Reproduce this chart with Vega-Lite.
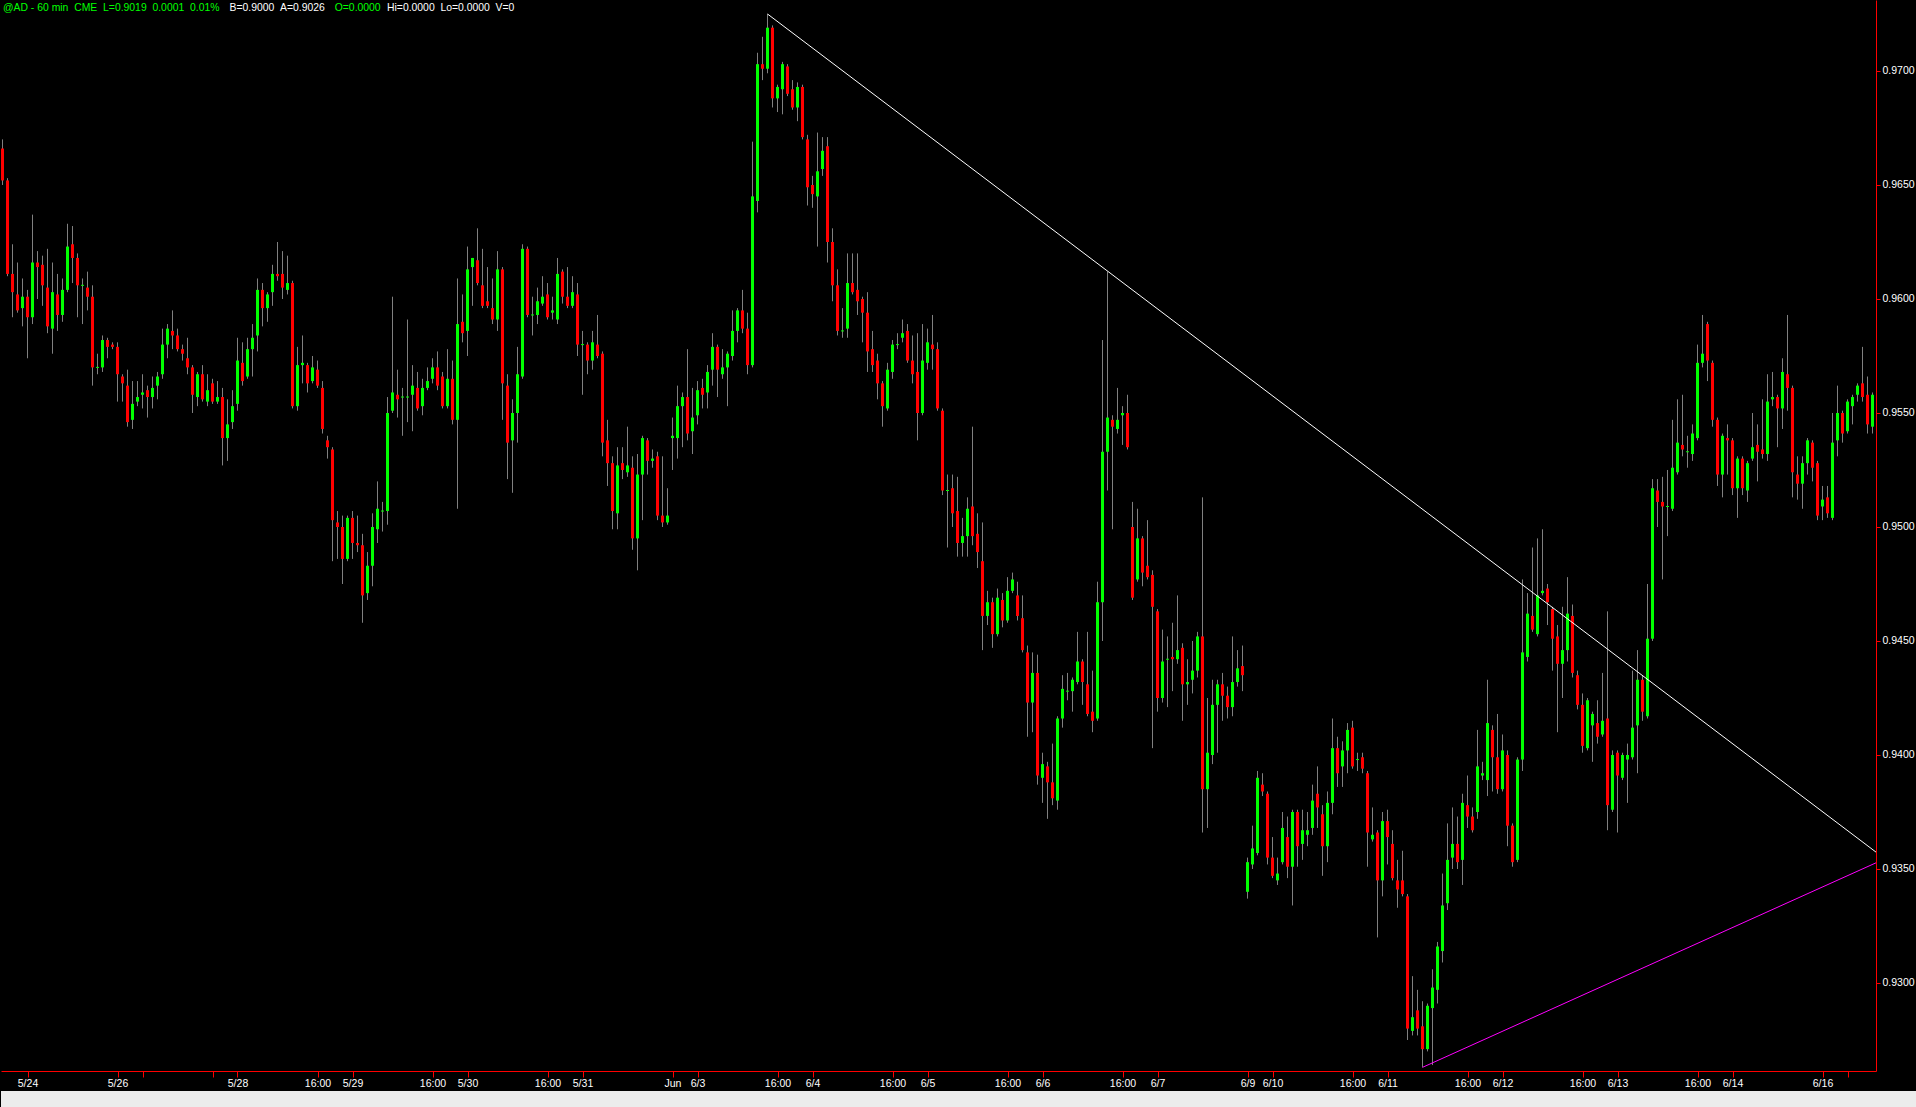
{
"$schema": "https://vega.github.io/schema/vega-lite/v6.json",
"background": "#000000",
"padding": 0,
"spacing": 2,
"config": {"view": {"stroke": null}, "axis": {"grid": false}},
"datasets": {
"bars": [
{"i":0,"o":0.9666,"h":0.9670,"l":0.9650,"c":0.9652},
{"i":1,"o":0.9652,"h":0.9653,"l":0.9610,"c":0.9611},
{"i":2,"o":0.9611,"h":0.9624,"l":0.9592,"c":0.9603},
{"i":3,"o":0.9602,"h":0.9616,"l":0.9594,"c":0.9595},
{"i":4,"o":0.9596,"h":0.9609,"l":0.9588,"c":0.9601},
{"i":5,"o":0.9601,"h":0.9604,"l":0.9574,"c":0.9592},
{"i":6,"o":0.9592,"h":0.9637,"l":0.9589,"c":0.9616},
{"i":7,"o":0.9616,"h":0.9621,"l":0.9600,"c":0.9614},
{"i":8,"o":0.9615,"h":0.9619,"l":0.9597,"c":0.9606},
{"i":9,"o":0.9605,"h":0.9622,"l":0.9585,"c":0.9588},
{"i":10,"o":0.9587,"h":0.9616,"l":0.9576,"c":0.9603},
{"i":11,"o":0.9602,"h":0.9611,"l":0.9586,"c":0.9593},
{"i":12,"o":0.9593,"h":0.9609,"l":0.9590,"c":0.9604},
{"i":13,"o":0.9604,"h":0.9633,"l":0.9603,"c":0.9623},
{"i":14,"o":0.9624,"h":0.9632,"l":0.9607,"c":0.9618},
{"i":15,"o":0.9618,"h":0.9620,"l":0.9592,"c":0.9606},
{"i":16,"o":0.9606,"h":0.9609,"l":0.9589,"c":0.9606},
{"i":17,"o":0.9605,"h":0.9612,"l":0.9595,"c":0.9601},
{"i":18,"o":0.9601,"h":0.9606,"l":0.9562,"c":0.9570},
{"i":19,"o":0.9570,"h":0.9576,"l":0.9567,"c":0.9570},
{"i":20,"o":0.9570,"h":0.9584,"l":0.9568,"c":0.9582},
{"i":21,"o":0.9582,"h":0.9583,"l":0.9574,"c":0.9579},
{"i":22,"o":0.9580,"h":0.9581,"l":0.9578,"c":0.9579},
{"i":23,"o":0.9579,"h":0.9581,"l":0.9555,"c":0.9567},
{"i":24,"o":0.9566,"h":0.9567,"l":0.9555,"c":0.9563},
{"i":25,"o":0.9562,"h":0.9569,"l":0.9544,"c":0.9546},
{"i":26,"o":0.9547,"h":0.9564,"l":0.9543,"c":0.9554},
{"i":27,"o":0.9555,"h":0.9564,"l":0.9553,"c":0.9557},
{"i":28,"o":0.9558,"h":0.9567,"l":0.9552,"c":0.9559},
{"i":29,"o":0.9560,"h":0.9562,"l":0.9548,"c":0.9557},
{"i":30,"o":0.9557,"h":0.9566,"l":0.9552,"c":0.9561},
{"i":31,"o":0.9562,"h":0.9568,"l":0.9556,"c":0.9566},
{"i":32,"o":0.9567,"h":0.9587,"l":0.9565,"c":0.9580},
{"i":33,"o":0.9580,"h":0.9589,"l":0.9574,"c":0.9587},
{"i":34,"o":0.9586,"h":0.9595,"l":0.9578,"c":0.9584},
{"i":35,"o":0.9584,"h":0.9587,"l":0.9577,"c":0.9578},
{"i":36,"o":0.9578,"h":0.9580,"l":0.9573,"c":0.9576},
{"i":37,"o":0.9574,"h":0.9583,"l":0.9567,"c":0.9570},
{"i":38,"o":0.9570,"h":0.9571,"l":0.9550,"c":0.9558},
{"i":39,"o":0.9557,"h":0.9568,"l":0.9553,"c":0.9567},
{"i":40,"o":0.9567,"h":0.9571,"l":0.9555,"c":0.9556},
{"i":41,"o":0.9555,"h":0.9567,"l":0.9553,"c":0.9560},
{"i":42,"o":0.9563,"h":0.9565,"l":0.9554,"c":0.9555},
{"i":43,"o":0.9555,"h":0.9564,"l":0.9554,"c":0.9557},
{"i":44,"o":0.9557,"h":0.9561,"l":0.9527,"c":0.9539},
{"i":45,"o":0.9539,"h":0.9556,"l":0.9529,"c":0.9545},
{"i":46,"o":0.9546,"h":0.9560,"l":0.9543,"c":0.9553},
{"i":47,"o":0.9554,"h":0.9583,"l":0.9551,"c":0.9573},
{"i":48,"o":0.9572,"h":0.9581,"l":0.9562,"c":0.9564},
{"i":49,"o":0.9566,"h":0.9583,"l":0.9565,"c":0.9578},
{"i":50,"o":0.9578,"h":0.9589,"l":0.9566,"c":0.9583},
{"i":51,"o":0.9584,"h":0.9609,"l":0.9577,"c":0.9604},
{"i":52,"o":0.9604,"h":0.9607,"l":0.9588,"c":0.9596},
{"i":53,"o":0.9596,"h":0.9603,"l":0.9590,"c":0.9602},
{"i":54,"o":0.9603,"h":0.9615,"l":0.9597,"c":0.9611},
{"i":55,"o":0.9611,"h":0.9625,"l":0.9608,"c":0.9610},
{"i":56,"o":0.9611,"h":0.9621,"l":0.9600,"c":0.9605},
{"i":57,"o":0.9604,"h":0.9619,"l":0.9602,"c":0.9607},
{"i":58,"o":0.9607,"h":0.9608,"l":0.9552,"c":0.9553},
{"i":59,"o":0.9553,"h":0.9579,"l":0.9551,"c":0.9571},
{"i":60,"o":0.9571,"h":0.9584,"l":0.9563,"c":0.9572},
{"i":61,"o":0.9571,"h":0.9572,"l":0.9559,"c":0.9563},
{"i":62,"o":0.9564,"h":0.9575,"l":0.9563,"c":0.9570},
{"i":63,"o":0.9569,"h":0.9573,"l":0.9561,"c":0.9562},
{"i":64,"o":0.9561,"h":0.9564,"l":0.9541,"c":0.9543},
{"i":65,"o":0.9538,"h":0.9540,"l":0.9530,"c":0.9535},
{"i":66,"o":0.9534,"h":0.9535,"l":0.9485,"c":0.9503},
{"i":67,"o":0.9502,"h":0.9507,"l":0.9486,"c":0.9500},
{"i":68,"o":0.9500,"h":0.9505,"l":0.9475,"c":0.9486},
{"i":69,"o":0.9486,"h":0.9505,"l":0.9485,"c":0.9504},
{"i":70,"o":0.9504,"h":0.9507,"l":0.9486,"c":0.9493},
{"i":71,"o":0.9493,"h":0.9505,"l":0.9489,"c":0.9492},
{"i":72,"o":0.9492,"h":0.9497,"l":0.9458,"c":0.9470},
{"i":73,"o":0.9471,"h":0.9489,"l":0.9468,"c":0.9483},
{"i":74,"o":0.9483,"h":0.9506,"l":0.9474,"c":0.9500},
{"i":75,"o":0.9499,"h":0.9520,"l":0.9493,"c":0.9508},
{"i":76,"o":0.9507,"h":0.9511,"l":0.9498,"c":0.9507},
{"i":77,"o":0.9507,"h":0.9557,"l":0.9501,"c":0.9550},
{"i":78,"o":0.9551,"h":0.9601,"l":0.9550,"c":0.9559},
{"i":79,"o":0.9558,"h":0.9569,"l":0.9548,"c":0.9556},
{"i":80,"o":0.9557,"h":0.9561,"l":0.9540,"c":0.9557},
{"i":81,"o":0.9557,"h":0.9591,"l":0.9546,"c":0.9557},
{"i":82,"o":0.9558,"h":0.9571,"l":0.9542,"c":0.9562},
{"i":83,"o":0.9561,"h":0.9568,"l":0.9551,"c":0.9552},
{"i":84,"o":0.9553,"h":0.9565,"l":0.9549,"c":0.9561},
{"i":85,"o":0.9561,"h":0.9570,"l":0.9560,"c":0.9564},
{"i":86,"o":0.9565,"h":0.9574,"l":0.9563,"c":0.9570},
{"i":87,"o":0.9570,"h":0.9577,"l":0.9560,"c":0.9562},
{"i":88,"o":0.9566,"h":0.9568,"l":0.9552,"c":0.9553},
{"i":89,"o":0.9553,"h":0.9578,"l":0.9552,"c":0.9565},
{"i":90,"o":0.9565,"h":0.9573,"l":0.9545,"c":0.9547},
{"i":91,"o":0.9547,"h":0.9609,"l":0.9508,"c":0.9589},
{"i":92,"o":0.9590,"h":0.9602,"l":0.9581,"c":0.9585},
{"i":93,"o":0.9586,"h":0.9623,"l":0.9575,"c":0.9613},
{"i":94,"o":0.9614,"h":0.9618,"l":0.9597,"c":0.9618},
{"i":95,"o":0.9617,"h":0.9631,"l":0.9606,"c":0.9607},
{"i":96,"o":0.9606,"h":0.9622,"l":0.9596,"c":0.9597},
{"i":97,"o":0.9599,"h":0.9614,"l":0.9596,"c":0.9597},
{"i":98,"o":0.9596,"h":0.9609,"l":0.9589,"c":0.9591},
{"i":99,"o":0.9591,"h":0.9621,"l":0.9586,"c":0.9613},
{"i":100,"o":0.9613,"h":0.9614,"l":0.9547,"c":0.9563},
{"i":101,"o":0.9562,"h":0.9567,"l":0.9521,"c":0.9537},
{"i":102,"o":0.9538,"h":0.9556,"l":0.9515,"c":0.9550},
{"i":103,"o":0.9550,"h":0.9579,"l":0.9537,"c":0.9567},
{"i":104,"o":0.9566,"h":0.9624,"l":0.9565,"c":0.9622},
{"i":105,"o":0.9622,"h":0.9623,"l":0.9592,"c":0.9593},
{"i":106,"o":0.9593,"h":0.9601,"l":0.9584,"c":0.9593},
{"i":107,"o":0.9593,"h":0.9605,"l":0.9589,"c":0.9599},
{"i":108,"o":0.9598,"h":0.9610,"l":0.9597,"c":0.9601},
{"i":109,"o":0.9602,"h":0.9607,"l":0.9591,"c":0.9592},
{"i":110,"o":0.9594,"h":0.9601,"l":0.9591,"c":0.9595},
{"i":111,"o":0.9591,"h":0.9618,"l":0.9589,"c":0.9611},
{"i":112,"o":0.9612,"h":0.9613,"l":0.9598,"c":0.9601},
{"i":113,"o":0.9601,"h":0.9614,"l":0.9596,"c":0.9597},
{"i":114,"o":0.9597,"h":0.9610,"l":0.9596,"c":0.9603},
{"i":115,"o":0.9602,"h":0.9607,"l":0.9575,"c":0.9580},
{"i":116,"o":0.9580,"h":0.9586,"l":0.9558,"c":0.9580},
{"i":117,"o":0.9580,"h":0.9581,"l":0.9567,"c":0.9573},
{"i":118,"o":0.9573,"h":0.9586,"l":0.9569,"c":0.9581},
{"i":119,"o":0.9580,"h":0.9593,"l":0.9574,"c":0.9575},
{"i":120,"o":0.9576,"h":0.9577,"l":0.9531,"c":0.9537},
{"i":121,"o":0.9538,"h":0.9547,"l":0.9518,"c":0.9528},
{"i":122,"o":0.9528,"h":0.9531,"l":0.9499,"c":0.9507},
{"i":123,"o":0.9506,"h":0.9535,"l":0.9499,"c":0.9527},
{"i":124,"o":0.9528,"h":0.9535,"l":0.9521,"c":0.9525},
{"i":125,"o":0.9524,"h":0.9544,"l":0.9522,"c":0.9527},
{"i":126,"o":0.9526,"h":0.9531,"l":0.9490,"c":0.9495},
{"i":127,"o":0.9495,"h":0.9532,"l":0.9481,"c":0.9523},
{"i":128,"o":0.9523,"h":0.9540,"l":0.9503,"c":0.9539},
{"i":129,"o":0.9538,"h":0.9539,"l":0.9523,"c":0.9529},
{"i":130,"o":0.9529,"h":0.9534,"l":0.9526,"c":0.9530},
{"i":131,"o":0.9531,"h":0.9533,"l":0.9503,"c":0.9505},
{"i":132,"o":0.9505,"h":0.9531,"l":0.9500,"c":0.9502},
{"i":133,"o":0.9502,"h":0.9517,"l":0.9501,"c":0.9505},
{"i":134,"o":0.9539,"h":0.9548,"l":0.9525,"c":0.9540},
{"i":135,"o":0.9539,"h":0.9562,"l":0.9530,"c":0.9553},
{"i":136,"o":0.9553,"h":0.9559,"l":0.9535,"c":0.9557},
{"i":137,"o":0.9557,"h":0.9578,"l":0.9538,"c":0.9541},
{"i":138,"o":0.9542,"h":0.9561,"l":0.9532,"c":0.9548},
{"i":139,"o":0.9549,"h":0.9564,"l":0.9545,"c":0.9560},
{"i":140,"o":0.9561,"h":0.9565,"l":0.9552,"c":0.9558},
{"i":141,"o":0.9559,"h":0.9571,"l":0.9552,"c":0.9568},
{"i":142,"o":0.9569,"h":0.9585,"l":0.9562,"c":0.9579},
{"i":143,"o":0.9579,"h":0.9580,"l":0.9557,"c":0.9569},
{"i":144,"o":0.9567,"h":0.9578,"l":0.9565,"c":0.9570},
{"i":145,"o":0.9570,"h":0.9577,"l":0.9553,"c":0.9576},
{"i":146,"o":0.9575,"h":0.9595,"l":0.9573,"c":0.9586},
{"i":147,"o":0.9586,"h":0.9596,"l":0.9581,"c":0.9595},
{"i":148,"o":0.9595,"h":0.9604,"l":0.9585,"c":0.9587},
{"i":149,"o":0.9587,"h":0.9594,"l":0.9567,"c":0.9571},
{"i":150,"o":0.9571,"h":0.9669,"l":0.9570,"c":0.9645},
{"i":151,"o":0.9643,"h":0.9708,"l":0.9638,"c":0.9703},
{"i":152,"o":0.9703,"h":0.9715,"l":0.9696,"c":0.9701},
{"i":153,"o":0.9701,"h":0.9725,"l":0.9699,"c":0.9719},
{"i":154,"o":0.9719,"h":0.9720,"l":0.9684,"c":0.9688},
{"i":155,"o":0.9688,"h":0.9694,"l":0.9682,"c":0.9693},
{"i":156,"o":0.9692,"h":0.9704,"l":0.9681,"c":0.9703},
{"i":157,"o":0.9702,"h":0.9703,"l":0.9689,"c":0.9690},
{"i":158,"o":0.9692,"h":0.9696,"l":0.9683,"c":0.9684},
{"i":159,"o":0.9684,"h":0.9695,"l":0.9678,"c":0.9693},
{"i":160,"o":0.9693,"h":0.9694,"l":0.9670,"c":0.9671},
{"i":161,"o":0.9670,"h":0.9672,"l":0.9641,"c":0.9649},
{"i":162,"o":0.9650,"h":0.9654,"l":0.9640,"c":0.9646},
{"i":163,"o":0.9645,"h":0.9673,"l":0.9623,"c":0.9656},
{"i":164,"o":0.9657,"h":0.9671,"l":0.9654,"c":0.9665},
{"i":165,"o":0.9667,"h":0.9671,"l":0.9616,"c":0.9625},
{"i":166,"o":0.9625,"h":0.9631,"l":0.9599,"c":0.9606},
{"i":167,"o":0.9606,"h":0.9613,"l":0.9584,"c":0.9586},
{"i":168,"o":0.9586,"h":0.9596,"l":0.9583,"c":0.9586},
{"i":169,"o":0.9587,"h":0.9620,"l":0.9583,"c":0.9607},
{"i":170,"o":0.9607,"h":0.9620,"l":0.9602,"c":0.9603},
{"i":171,"o":0.9604,"h":0.9620,"l":0.9593,"c":0.9599},
{"i":172,"o":0.9600,"h":0.9601,"l":0.9581,"c":0.9594},
{"i":173,"o":0.9594,"h":0.9603,"l":0.9568,"c":0.9577},
{"i":174,"o":0.9578,"h":0.9586,"l":0.9568,"c":0.9571},
{"i":175,"o":0.9573,"h":0.9576,"l":0.9556,"c":0.9563},
{"i":176,"o":0.9563,"h":0.9564,"l":0.9544,"c":0.9553},
{"i":177,"o":0.9552,"h":0.9572,"l":0.9551,"c":0.9569},
{"i":178,"o":0.9568,"h":0.9582,"l":0.9565,"c":0.9580},
{"i":179,"o":0.9580,"h":0.9585,"l":0.9578,"c":0.9580},
{"i":180,"o":0.9583,"h":0.9591,"l":0.9581,"c":0.9585},
{"i":181,"o":0.9586,"h":0.9589,"l":0.9572,"c":0.9573},
{"i":182,"o":0.9573,"h":0.9584,"l":0.9563,"c":0.9567},
{"i":183,"o":0.9568,"h":0.9585,"l":0.9538,"c":0.9550},
{"i":184,"o":0.9550,"h":0.9589,"l":0.9549,"c":0.9573},
{"i":185,"o":0.9572,"h":0.9587,"l":0.9569,"c":0.9581},
{"i":186,"o":0.9580,"h":0.9593,"l":0.9569,"c":0.9578},
{"i":187,"o":0.9578,"h":0.9581,"l":0.9551,"c":0.9552},
{"i":188,"o":0.9551,"h":0.9552,"l":0.9514,"c":0.9516},
{"i":189,"o":0.9516,"h":0.9523,"l":0.9491,"c":0.9516},
{"i":190,"o":0.9517,"h":0.9523,"l":0.9500,"c":0.9506},
{"i":191,"o":0.9507,"h":0.9522,"l":0.9487,"c":0.9493},
{"i":192,"o":0.9493,"h":0.9504,"l":0.9487,"c":0.9496},
{"i":193,"o":0.9496,"h":0.9513,"l":0.9487,"c":0.9508},
{"i":194,"o":0.9509,"h":0.9544,"l":0.9492,"c":0.9496},
{"i":195,"o":0.9497,"h":0.9506,"l":0.9482,"c":0.9489},
{"i":196,"o":0.9485,"h":0.9502,"l":0.9446,"c":0.9461},
{"i":197,"o":0.9461,"h":0.9472,"l":0.9457,"c":0.9467},
{"i":198,"o":0.9467,"h":0.9469,"l":0.9447,"c":0.9453},
{"i":199,"o":0.9453,"h":0.9473,"l":0.9452,"c":0.9469},
{"i":200,"o":0.9468,"h":0.9471,"l":0.9456,"c":0.9459},
{"i":201,"o":0.9459,"h":0.9478,"l":0.9458,"c":0.9472},
{"i":202,"o":0.9472,"h":0.9480,"l":0.9471,"c":0.9477},
{"i":203,"o":0.9470,"h":0.9476,"l":0.9459,"c":0.9461},
{"i":204,"o":0.9460,"h":0.9470,"l":0.9445,"c":0.9446},
{"i":205,"o":0.9445,"h":0.9448,"l":0.9408,"c":0.9423},
{"i":206,"o":0.9423,"h":0.9445,"l":0.9410,"c":0.9436},
{"i":207,"o":0.9436,"h":0.9444,"l":0.9387,"c":0.9391},
{"i":208,"o":0.9390,"h":0.9401,"l":0.9379,"c":0.9396},
{"i":209,"o":0.9395,"h":0.9397,"l":0.9372,"c":0.9388},
{"i":210,"o":0.9388,"h":0.9405,"l":0.9378,"c":0.9381},
{"i":211,"o":0.9380,"h":0.9417,"l":0.9376,"c":0.9416},
{"i":212,"o":0.9416,"h":0.9435,"l":0.9412,"c":0.9429},
{"i":213,"o":0.9428,"h":0.9436,"l":0.9424,"c":0.9428},
{"i":214,"o":0.9428,"h":0.9434,"l":0.9419,"c":0.9433},
{"i":215,"o":0.9432,"h":0.9454,"l":0.9431,"c":0.9441},
{"i":216,"o":0.9441,"h":0.9442,"l":0.9422,"c":0.9432},
{"i":217,"o":0.9431,"h":0.9454,"l":0.9417,"c":0.9418},
{"i":218,"o":0.9419,"h":0.9437,"l":0.9410,"c":0.9415},
{"i":219,"o":0.9416,"h":0.9476,"l":0.9415,"c":0.9467},
{"i":220,"o":0.9467,"h":0.9582,"l":0.9450,"c":0.9533},
{"i":221,"o":0.9533,"h":0.9612,"l":0.9516,"c":0.9548},
{"i":222,"o":0.9547,"h":0.9549,"l":0.9499,"c":0.9544},
{"i":223,"o":0.9543,"h":0.9561,"l":0.9541,"c":0.9547},
{"i":224,"o":0.9549,"h":0.9553,"l":0.9536,"c":0.9550},
{"i":225,"o":0.9550,"h":0.9558,"l":0.9534,"c":0.9535},
{"i":226,"o":0.9500,"h":0.9511,"l":0.9468,"c":0.9469},
{"i":227,"o":0.9477,"h":0.9508,"l":0.9476,"c":0.9495},
{"i":228,"o":0.9495,"h":0.9496,"l":0.9474,"c":0.9480},
{"i":229,"o":0.9483,"h":0.9503,"l":0.9477,"c":0.9478},
{"i":230,"o":0.9479,"h":0.9481,"l":0.9403,"c":0.9465},
{"i":231,"o":0.9463,"h":0.9464,"l":0.9419,"c":0.9425},
{"i":232,"o":0.9425,"h":0.9455,"l":0.9423,"c":0.9441},
{"i":233,"o":0.9442,"h":0.9452,"l":0.9421,"c":0.9442},
{"i":234,"o":0.9443,"h":0.9458,"l":0.9428,"c":0.9442},
{"i":235,"o":0.9442,"h":0.9470,"l":0.9440,"c":0.9446},
{"i":236,"o":0.9447,"h":0.9449,"l":0.9415,"c":0.9431},
{"i":237,"o":0.9431,"h":0.9442,"l":0.9422,"c":0.9432},
{"i":238,"o":0.9433,"h":0.9450,"l":0.9427,"c":0.9437},
{"i":239,"o":0.9437,"h":0.9454,"l":0.9434,"c":0.9452},
{"i":240,"o":0.9452,"h":0.9513,"l":0.9366,"c":0.9385},
{"i":241,"o":0.9385,"h":0.9425,"l":0.9368,"c":0.9401},
{"i":242,"o":0.9400,"h":0.9433,"l":0.9396,"c":0.9422},
{"i":243,"o":0.9422,"h":0.9433,"l":0.9401,"c":0.9431},
{"i":244,"o":0.9431,"h":0.9436,"l":0.9415,"c":0.9426},
{"i":245,"o":0.9426,"h":0.9430,"l":0.9416,"c":0.9421},
{"i":246,"o":0.9421,"h":0.9452,"l":0.9417,"c":0.9432},
{"i":247,"o":0.9432,"h":0.9446,"l":0.9430,"c":0.9438},
{"i":248,"o":0.9439,"h":0.9448,"l":0.9428,"c":0.9435},
{"i":249,"o":0.9340,"h":0.9355,"l":0.9337,"c":0.9353},
{"i":250,"o":0.9352,"h":0.9369,"l":0.9350,"c":0.9359},
{"i":251,"o":0.9357,"h":0.9393,"l":0.9356,"c":0.9390},
{"i":252,"o":0.9387,"h":0.9392,"l":0.9382,"c":0.9384},
{"i":253,"o":0.9383,"h":0.9384,"l":0.9352,"c":0.9355},
{"i":254,"o":0.9355,"h":0.9364,"l":0.9346,"c":0.9347},
{"i":255,"o":0.9345,"h":0.9355,"l":0.9343,"c":0.9348},
{"i":256,"o":0.9353,"h":0.9375,"l":0.9352,"c":0.9368},
{"i":257,"o":0.9364,"h":0.9373,"l":0.9346,"c":0.9351},
{"i":258,"o":0.9351,"h":0.9376,"l":0.9334,"c":0.9375},
{"i":259,"o":0.9375,"h":0.9376,"l":0.9351,"c":0.9360},
{"i":260,"o":0.9361,"h":0.9376,"l":0.9354,"c":0.9367},
{"i":261,"o":0.9365,"h":0.9375,"l":0.9360,"c":0.9367},
{"i":262,"o":0.9368,"h":0.9387,"l":0.9365,"c":0.9380},
{"i":263,"o":0.9383,"h":0.9395,"l":0.9368,"c":0.9377},
{"i":264,"o":0.9374,"h":0.9378,"l":0.9347,"c":0.9360},
{"i":265,"o":0.9360,"h":0.9384,"l":0.9353,"c":0.9379},
{"i":266,"o":0.9379,"h":0.9416,"l":0.9374,"c":0.9403},
{"i":267,"o":0.9403,"h":0.9408,"l":0.9386,"c":0.9392},
{"i":268,"o":0.9395,"h":0.9406,"l":0.9386,"c":0.9402},
{"i":269,"o":0.9402,"h":0.9414,"l":0.9392,"c":0.9411},
{"i":270,"o":0.9412,"h":0.9415,"l":0.9394,"c":0.9395},
{"i":271,"o":0.9398,"h":0.9401,"l":0.9393,"c":0.9398},
{"i":272,"o":0.9399,"h":0.9401,"l":0.9392,"c":0.9394},
{"i":273,"o":0.9392,"h":0.9393,"l":0.9351,"c":0.9366},
{"i":274,"o":0.9363,"h":0.9377,"l":0.9362,"c":0.9365},
{"i":275,"o":0.9366,"h":0.9367,"l":0.9320,"c":0.9345},
{"i":276,"o":0.9345,"h":0.9375,"l":0.9338,"c":0.9371},
{"i":277,"o":0.9371,"h":0.9376,"l":0.9352,"c":0.9364},
{"i":278,"o":0.9361,"h":0.9367,"l":0.9345,"c":0.9346},
{"i":279,"o":0.9345,"h":0.9354,"l":0.9333,"c":0.9341},
{"i":280,"o":0.9345,"h":0.9358,"l":0.9338,"c":0.9339},
{"i":281,"o":0.9338,"h":0.9339,"l":0.9275,"c":0.9280},
{"i":282,"o":0.9279,"h":0.9303,"l":0.9277,"c":0.9285},
{"i":283,"o":0.9288,"h":0.9297,"l":0.9277,"c":0.9280},
{"i":284,"o":0.9281,"h":0.9292,"l":0.9263,"c":0.9271},
{"i":285,"o":0.9271,"h":0.9291,"l":0.9270,"c":0.9290},
{"i":286,"o":0.9289,"h":0.9306,"l":0.9264,"c":0.9298},
{"i":287,"o":0.9297,"h":0.9318,"l":0.9291,"c":0.9316},
{"i":288,"o":0.9314,"h":0.9348,"l":0.9309,"c":0.9334},
{"i":289,"o":0.9335,"h":0.9370,"l":0.9332,"c":0.9354},
{"i":290,"o":0.9355,"h":0.9377,"l":0.9350,"c":0.9361},
{"i":291,"o":0.9361,"h":0.9373,"l":0.9350,"c":0.9353},
{"i":292,"o":0.9354,"h":0.9383,"l":0.9343,"c":0.9379},
{"i":293,"o":0.9378,"h":0.9391,"l":0.9368,"c":0.9373},
{"i":294,"o":0.9373,"h":0.9377,"l":0.9366,"c":0.9367},
{"i":295,"o":0.9375,"h":0.9411,"l":0.9372,"c":0.9395},
{"i":296,"o":0.9391,"h":0.9397,"l":0.9389,"c":0.9392},
{"i":297,"o":0.9389,"h":0.9433,"l":0.9382,"c":0.9414},
{"i":298,"o":0.9411,"h":0.9413,"l":0.9384,"c":0.9399},
{"i":299,"o":0.9399,"h":0.9418,"l":0.9383,"c":0.9385},
{"i":300,"o":0.9385,"h":0.9409,"l":0.9384,"c":0.9402},
{"i":301,"o":0.9400,"h":0.9402,"l":0.9360,"c":0.9369},
{"i":302,"o":0.9369,"h":0.9370,"l":0.9351,"c":0.9353},
{"i":303,"o":0.9354,"h":0.9399,"l":0.9353,"c":0.9398},
{"i":304,"o":0.9398,"h":0.9477,"l":0.9393,"c":0.9445},
{"i":305,"o":0.9443,"h":0.9471,"l":0.9441,"c":0.9462},
{"i":306,"o":0.9461,"h":0.9491,"l":0.9454,"c":0.9455},
{"i":307,"o":0.9453,"h":0.9495,"l":0.9452,"c":0.9470},
{"i":308,"o":0.9471,"h":0.9499,"l":0.9470,"c":0.9472},
{"i":309,"o":0.9473,"h":0.9475,"l":0.9457,"c":0.9467},
{"i":310,"o":0.9464,"h":0.9465,"l":0.9437,"c":0.9451},
{"i":311,"o":0.9452,"h":0.9457,"l":0.9410,"c":0.9440},
{"i":312,"o":0.9440,"h":0.9465,"l":0.9425,"c":0.9446},
{"i":313,"o":0.9446,"h":0.9478,"l":0.9441,"c":0.9462},
{"i":314,"o":0.9461,"h":0.9466,"l":0.9434,"c":0.9436},
{"i":315,"o":0.9435,"h":0.9437,"l":0.9420,"c":0.9422},
{"i":316,"o":0.9422,"h":0.9427,"l":0.9401,"c":0.9404},
{"i":317,"o":0.9403,"h":0.9425,"l":0.9402,"c":0.9424},
{"i":318,"o":0.9413,"h":0.9419,"l":0.9397,"c":0.9418},
{"i":319,"o":0.9414,"h":0.9424,"l":0.9405,"c":0.9408},
{"i":320,"o":0.9409,"h":0.9436,"l":0.9408,"c":0.9415},
{"i":321,"o":0.9416,"h":0.9463,"l":0.9367,"c":0.9378},
{"i":322,"o":0.9376,"h":0.9402,"l":0.9375,"c":0.9400},
{"i":323,"o":0.9401,"h":0.9402,"l":0.9366,"c":0.9391},
{"i":324,"o":0.9390,"h":0.9401,"l":0.9389,"c":0.9400},
{"i":325,"o":0.9398,"h":0.9405,"l":0.9379,"c":0.9400},
{"i":326,"o":0.9399,"h":0.9437,"l":0.9398,"c":0.9412},
{"i":327,"o":0.9413,"h":0.9446,"l":0.9392,"c":0.9433},
{"i":328,"o":0.9433,"h":0.9435,"l":0.9415,"c":0.9419},
{"i":329,"o":0.9417,"h":0.9475,"l":0.9416,"c":0.9451},
{"i":330,"o":0.9451,"h":0.9521,"l":0.9450,"c":0.9517},
{"i":331,"o":0.9516,"h":0.9521,"l":0.9500,"c":0.9511},
{"i":332,"o":0.9511,"h":0.9522,"l":0.9477,"c":0.9509},
{"i":333,"o":0.9509,"h":0.9525,"l":0.9496,"c":0.9509},
{"i":334,"o":0.9508,"h":0.9547,"l":0.9507,"c":0.9526},
{"i":335,"o":0.9524,"h":0.9556,"l":0.9523,"c":0.9537},
{"i":336,"o":0.9536,"h":0.9558,"l":0.9531,"c":0.9534},
{"i":337,"o":0.9533,"h":0.9540,"l":0.9526,"c":0.9533},
{"i":338,"o":0.9532,"h":0.9545,"l":0.9529,"c":0.9541},
{"i":339,"o":0.9539,"h":0.9580,"l":0.9538,"c":0.9572},
{"i":340,"o":0.9572,"h":0.9593,"l":0.9570,"c":0.9576},
{"i":341,"o":0.9589,"h":0.9590,"l":0.9564,"c":0.9573},
{"i":342,"o":0.9572,"h":0.9573,"l":0.9544,"c":0.9547},
{"i":343,"o":0.9547,"h":0.9548,"l":0.9518,"c":0.9523},
{"i":344,"o":0.9523,"h":0.9541,"l":0.9513,"c":0.9540},
{"i":345,"o":0.9539,"h":0.9545,"l":0.9523,"c":0.9538},
{"i":346,"o":0.9538,"h":0.9539,"l":0.9514,"c":0.9517},
{"i":347,"o":0.9517,"h":0.9531,"l":0.9504,"c":0.9530},
{"i":348,"o":0.9530,"h":0.9531,"l":0.9514,"c":0.9517},
{"i":349,"o":0.9516,"h":0.9529,"l":0.9511,"c":0.9528},
{"i":350,"o":0.9530,"h":0.9550,"l":0.9529,"c":0.9535},
{"i":351,"o":0.9536,"h":0.9545,"l":0.9520,"c":0.9533},
{"i":352,"o":0.9534,"h":0.9556,"l":0.9530,"c":0.9532},
{"i":353,"o":0.9532,"h":0.9567,"l":0.9529,"c":0.9555},
{"i":354,"o":0.9556,"h":0.9568,"l":0.9553,"c":0.9557},
{"i":355,"o":0.9557,"h":0.9558,"l":0.9535,"c":0.9552},
{"i":356,"o":0.9552,"h":0.9574,"l":0.9543,"c":0.9568},
{"i":357,"o":0.9567,"h":0.9593,"l":0.9551,"c":0.9561},
{"i":358,"o":0.9561,"h":0.9562,"l":0.9513,"c":0.9524},
{"i":359,"o":0.9523,"h":0.9531,"l":0.9512,"c":0.9519},
{"i":360,"o":0.9519,"h":0.9531,"l":0.9508,"c":0.9528},
{"i":361,"o":0.9528,"h":0.9539,"l":0.9523,"c":0.9538},
{"i":362,"o":0.9537,"h":0.9538,"l":0.9520,"c":0.9526},
{"i":363,"o":0.9528,"h":0.9529,"l":0.9503,"c":0.9505},
{"i":364,"o":0.9509,"h":0.9518,"l":0.9503,"c":0.9512},
{"i":365,"o":0.9513,"h":0.9518,"l":0.9504,"c":0.9506},
{"i":366,"o":0.9504,"h":0.9550,"l":0.9503,"c":0.9537},
{"i":367,"o":0.9538,"h":0.9562,"l":0.9531,"c":0.9550},
{"i":368,"o":0.9550,"h":0.9551,"l":0.9537,"c":0.9541},
{"i":369,"o":0.9542,"h":0.9556,"l":0.9541,"c":0.9555},
{"i":370,"o":0.9553,"h":0.9558,"l":0.9545,"c":0.9557},
{"i":371,"o":0.9558,"h":0.9563,"l":0.9555,"c":0.9562},
{"i":372,"o":0.9563,"h":0.9579,"l":0.9555,"c":0.9557},
{"i":373,"o":0.9558,"h":0.9566,"l":0.9541,"c":0.9545},
{"i":374,"o":0.9544,"h":0.9559,"l":0.9541,"c":0.9558}
],
"trend": [
{"line":"down","i":153,"p":0.9725},
{"line":"down","i":374.7,"p":0.93574},
{"line":"up","i":284,"p":0.9263},
{"line":"up","i":374.7,"p":0.93527}
]
},
"vconcat": [
{
"width": 1875,
"height": 1071,
"layer": [
{
"data": {"name": "bars"},
"mark": {"type": "rule", "color": "#808080", "strokeWidth": 1},
"encoding": {
"x": {"field": "i", "type": "quantitative",
"scale": {"domain": [-0.3, 374.7], "nice": false, "zero": false, "padding": 0},
"axis": {"orient": "bottom", "title": null, "grid": false,
"values": [5,23,28,42,47,63,70,86,93,109,116,134,139,155,162,178,185,201,208,224,231,249,254,270,277,293,300,316,323,339,346,364,369],
"labelExpr": "['5/24','5/26','','','5/28','16:00','5/29','16:00','5/30','16:00','5/31','Jun','6/3','16:00','6/4','16:00','6/5','16:00','6/6','16:00','6/7','6/9','6/10','16:00','6/11','16:00','6/12','16:00','6/13','16:00','6/14','6/16',''][indexof([5,23,28,42,47,63,70,86,93,109,116,134,139,155,162,178,185,201,208,224,231,249,254,270,277,293,300,316,323,339,346,364,369], datum.value)]",
"domainColor": "#ff0000", "domainWidth": 1, "tickColor": "#ff0000", "tickWidth": 1, "tickSize": 6,
"labelColor": "#ffffff", "labelFont": "Liberation Sans", "labelFontSize": 10.5, "labelPadding": 1.5,
"labelOverlap": false, "labelFlush": false, "labelBound": false}},
"y": {"field": "l", "type": "quantitative",
"scale": {"domain": [0.92614, 0.973114], "nice": false, "zero": false, "padding": 0},
"axis": {"orient": "right", "title": null, "grid": false,
"values": [0.93, 0.935, 0.94, 0.945, 0.95, 0.955, 0.96, 0.965, 0.97],
"format": ".4f",
"domainColor": "#ff0000", "domainWidth": 1, "tickColor": "#ff0000", "tickWidth": 1, "tickSize": 4,
"labelColor": "#ffffff", "labelFont": "Liberation Sans", "labelFontSize": 10.5, "labelPadding": 2,
"labelOverlap": false, "labelFlush": false}},
"y2": {"field": "h"}
}
},
{
"data": {"name": "bars"},
"mark": {"type": "bar", "size": 3},
"encoding": {
"x": {"field": "i", "type": "quantitative"},
"y": {"field": "o", "type": "quantitative"},
"y2": {"field": "c"},
"color": {"condition": {"test": "datum.o <= datum.c", "value": "#00ff00"}, "value": "#ff0000"}
}
},
{
"data": {"name": "bars"},
"transform": [{"filter": "datum.o == datum.c"}],
"mark": {"type": "tick", "orient": "horizontal", "size": 3, "thickness": 1, "color": "#00ff00", "opacity": 1},
"encoding": {
"x": {"field": "i", "type": "quantitative"},
"y": {"field": "c", "type": "quantitative"}
}
},
{
"data": {"name": "trend"},
"mark": {"type": "line", "strokeWidth": 1},
"encoding": {
"x": {"field": "i", "type": "quantitative"},
"y": {"field": "p", "type": "quantitative"},
"color": {"field": "line", "type": "nominal", "scale": {"domain": ["down", "up"], "range": ["#ffffff", "#ff00ff"]}, "legend": null}
}
},
{
"data": {"values": [{"t": "@AD - 60 min\u00a0\u00a0CME\u00a0\u00a0L=0.9019\u00a0\u00a00.0001\u00a0\u00a00.01%"}]},
"mark": {"type": "text", "align": "left", "baseline": "middle", "font": "Liberation Sans", "fontSize": 10.4, "color": "#00ff00"},
"encoding": {"x": {"datum": 0.1, "type": "quantitative"}, "y": {"datum": 0.97278, "type": "quantitative"}, "text": {"field": "t"}}
},
{
"data": {"values": [{"t": "B=0.9000\u00a0\u00a0A=0.9026"}]},
"mark": {"type": "text", "align": "left", "baseline": "middle", "font": "Liberation Sans", "fontSize": 10.4, "color": "#ffffff"},
"encoding": {"x": {"datum": 45.4, "type": "quantitative"}, "y": {"datum": 0.97278, "type": "quantitative"}, "text": {"field": "t"}}
},
{
"data": {"values": [{"t": "O=0.0000"}]},
"mark": {"type": "text", "align": "left", "baseline": "middle", "font": "Liberation Sans", "fontSize": 10.4, "color": "#00ff00"},
"encoding": {"x": {"datum": 66.44, "type": "quantitative"}, "y": {"datum": 0.97278, "type": "quantitative"}, "text": {"field": "t"}}
},
{
"data": {"values": [{"t": "Hi=0.0000\u00a0\u00a0Lo=0.0000\u00a0\u00a0V=0"}]},
"mark": {"type": "text", "align": "left", "baseline": "middle", "font": "Liberation Sans", "fontSize": 10.4, "color": "#ffffff"},
"encoding": {"x": {"datum": 76.9, "type": "quantitative"}, "y": {"datum": 0.97278, "type": "quantitative"}, "text": {"field": "t"}}
}
]
},
{
"width": 1916,
"height": 16,
"view": {"fill": "#ececec", "stroke": null},
"data": {"values": []},
"mark": "point"
}
]
}
